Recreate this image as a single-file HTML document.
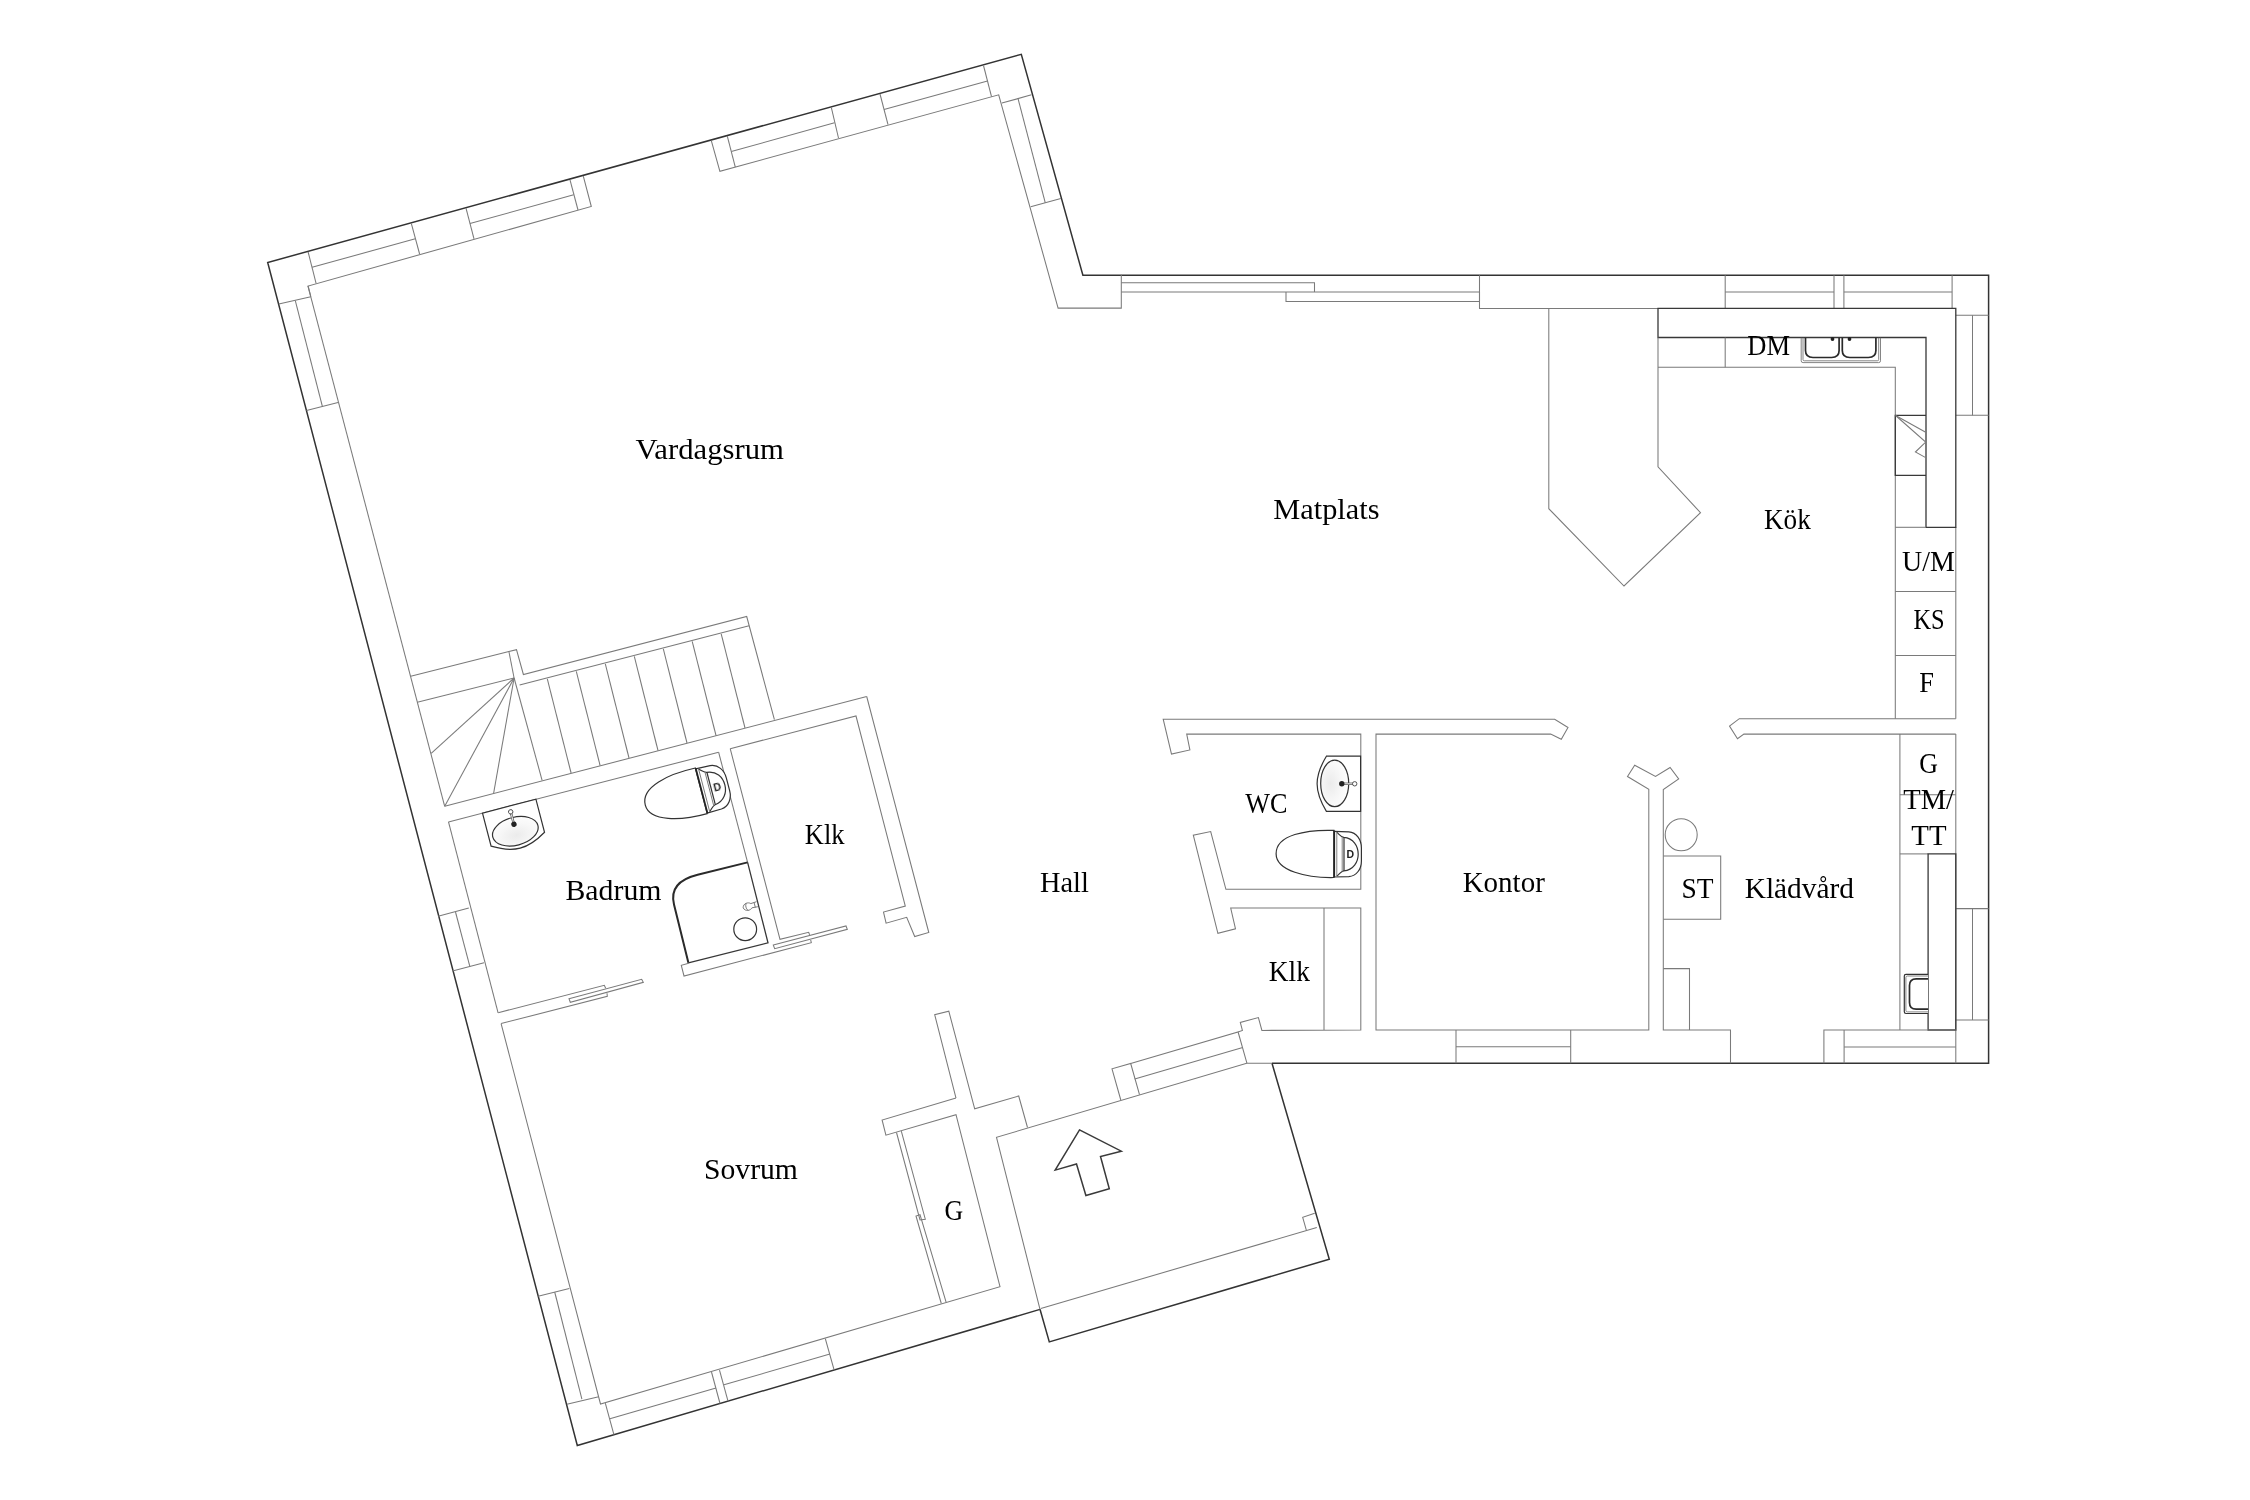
<!DOCTYPE html>
<html lang="sv"><head><meta charset="utf-8"><title>Planritning</title>
<style>
html,body{margin:0;padding:0;background:#fff}
body{width:2250px;height:1500px;overflow:hidden}
svg{display:block}
.l{fill:none;stroke:#7a7a7a;stroke-width:1.05}
.d{fill:none;stroke:#333;stroke-width:1.5;stroke-linejoin:miter}
.f{fill:#fff;stroke:#333;stroke-width:1.2}
.fn{fill:none;stroke:#333;stroke-width:1.2}
.fk{fill:none;stroke:#222;stroke-width:1.8}
.fl{fill:none;stroke:#777;stroke-width:0.9}
.tb{font-family:"Liberation Sans",sans-serif;font-size:10.5px;font-weight:bold;fill:#222}
.c{fill:none;stroke:#383838;stroke-width:1.3}
.a{fill:none;stroke:#3a3a3a;stroke-width:1.5;stroke-linejoin:miter}
.s{fill:none;stroke:#2a2a2a;stroke-width:2;stroke-linejoin:round}
text{font-family:"Liberation Serif","DejaVu Serif",serif;font-size:29.5px;fill:#000}
</style></head><body>
<svg width="2250" height="1500" viewBox="0 0 2250 1500">
<rect width="2250" height="1500" fill="#fff"/>
<polyline class="d" points="1040.0,1309.4 577.3,1445.5 267.7,262.5 1021.3,54.3 1082.9,275.3 1988.6,275.3 1988.6,1063.2 1272.0,1063.2"/>
<polyline class="d" points="1040.0,1309.3 1049.3,1341.9 1329.3,1259.2 1272.0,1063.2"/>
<polyline class="l" points="310.8,296.7 308.1,286.0 591.3,206.5 583.3,176.1"/>
<polyline class="l" points="308.1,251.9 316.1,283.3"/>
<polyline class="l" points="411.3,223.3 419.6,254.0"/>
<polyline class="l" points="466.0,208.1 474.0,238.8"/>
<polyline class="l" points="570.0,179.9 578.0,210.0"/>
<polyline class="l" points="312.1,267.3 415.3,238.8"/>
<polyline class="l" points="470.0,223.6 573.7,194.8"/>
<polyline class="l" points="727.3,136.1 735.3,167.1"/>
<polyline class="l" points="731.3,151.6 834.5,122.8"/>
<polyline class="l" points="831.3,107.3 838.5,138.0"/>
<polyline class="l" points="278.8,304.1 310.8,296.7"/>
<polyline class="l" points="295.3,300.7 322.5,406.8"/>
<polyline class="l" points="306.5,410.5 338.0,402.5"/>
<polyline class="l" points="711.3,140.7 719.9,171.3 998.7,94.8 1058.1,308.1 1121.3,308.1 1121.3,274.8"/>
<polyline class="l" points="880.0,94.0 888.0,124.7"/>
<polyline class="l" points="983.5,65.5 991.5,96.7"/>
<polyline class="l" points="884.0,109.5 987.5,80.9"/>
<polyline class="l" points="1001.9,103.1 1031.5,94.8"/>
<polyline class="l" points="1030.7,206.8 1060.8,198.5"/>
<polyline class="l" points="1018.1,98.8 1045.3,202.8"/>
<polyline class="l" points="1121.3,282.7 1314.5,282.7 1314.5,291.9"/>
<polyline class="l" points="1121.3,291.9 1479.5,291.9"/>
<polyline class="l" points="1479.5,291.9 1479.5,301.5 1286.0,301.5 1286.0,291.9"/>
<polyline class="l" points="1479.5,275.3 1479.5,308.4 1952.1,308.4"/>
<polyline class="l" points="307.9,285.9 444.7,806.3"/>
<polyline class="l" points="444.7,806.3 866.7,696.5"/>
<polyline class="l" points="410.7,676.3 508.9,651.5 516.5,649.7 523.4,674.5 746.7,616.5 774.4,719.6"/>
<polyline class="l" points="508.9,651.5 514.1,678.0"/>
<polyline class="l" points="417.3,702.3 514.1,678.0"/>
<polyline class="l" points="519.6,684.9 749.1,625.7"/>
<polyline class="l" points="514.1,678.0 431.2,753.4"/>
<polyline class="l" points="514.1,678.0 444.7,806.3"/>
<polyline class="l" points="514.1,678.0 493.6,793.3"/>
<polyline class="l" points="514.1,678.0 542.1,780.3"/>
<polyline class="l" points="547.3,678.9 571.1,773.0"/>
<polyline class="l" points="576.3,671.4 600.1,765.5"/>
<polyline class="l" points="605.3,663.9 629.0,758.0"/>
<polyline class="l" points="634.3,656.4 658.0,750.5"/>
<polyline class="l" points="663.3,648.8 687.0,743.0"/>
<polyline class="l" points="692.2,641.3 716.0,735.5"/>
<polyline class="l" points="721.2,633.8 745.0,728.0"/>
<polyline class="l" points="448.5,821.9 718.6,752.2"/>
<polyline class="l" points="448.5,821.9 498.1,1012.8"/>
<polyline class="l" points="718.6,752.2 747.6,862.4"/>
<polyline class="l" points="730.2,748.7 780.0,939.3 808.7,932.3 809.6,934.9"/>
<polyline class="l" points="730.2,748.7 856.0,716.0 905.3,906.1 883.5,912.0 886.1,923.2 906.7,917.3 914.7,936.5 928.8,932.5 866.7,696.5"/>
<polygon class="l" points="773.3,945.1 846.0,926.0 847.3,929.3 774.7,948.7"/>
<polyline class="l" points="688.7,963.3 681.3,965.3 684.0,976.0 811.3,942.7 810.7,940.0"/>
<polyline class="c" points="747.6,862.4 768.0,942.8 688.4,962.8"/>
<polyline class="l" points="438.1,916.3 468.8,908.0"/>
<polyline class="l" points="452.5,970.9 484.0,962.7"/>
<polyline class="l" points="455.5,912.0 469.9,966.7"/>
<polyline class="l" points="498.2,1012.7 604.3,985.3 605.7,988.3"/>
<polygon class="l" points="569.0,998.7 641.7,979.3 643.3,982.3 570.3,1002.3"/>
<polyline class="l" points="607.0,993.3 607.3,996.3 501.1,1023.6"/>
<polyline class="l" points="501.1,1023.6 600.5,1404.0 1000.0,1286.7 956.0,1114.7 885.9,1135.2 882.1,1120.0 956.0,1098.1"/>
<polyline class="l" points="538.1,1296.3 569.3,1288.5"/>
<polyline class="l" points="554.7,1292.0 581.9,1399.2"/>
<polyline class="l" points="566.9,1404.3 598.7,1396.8"/>
<polyline class="l" points="605.3,1403.2 613.9,1434.7"/>
<polyline class="l" points="711.5,1372.0 720.0,1403.5"/>
<polyline class="l" points="609.9,1418.7 716.0,1388.0"/>
<polyline class="l" points="719.5,1370.1 728.0,1401.1"/>
<polyline class="l" points="825.3,1338.7 834.1,1369.9"/>
<polyline class="l" points="724.0,1384.8 829.9,1354.1"/>
<polyline class="l" points="896.5,1132.5 920.0,1220.0 925.3,1219.2 901.3,1131.2"/>
<polyline class="l" points="941.3,1303.5 916.0,1216.0 920.0,1214.7 946.1,1302.1"/>
<polyline class="l" points="956.0,1098.1 934.7,1014.7 948.8,1011.2 974.7,1108.8 1018.7,1096.0 1027.5,1127.5"/>
<polyline class="l" points="1040.0,1309.3 996.5,1137.3 1246.7,1063.2 1272.0,1063.2"/>
<polyline class="l" points="1040.8,1308.5 1316.8,1227.5"/>
<polyline class="l" points="1314.7,1213.3 1302.7,1217.3 1306.4,1230.4"/>
<polyline class="l" points="1120.8,1100.0 1112.0,1068.8 1130.7,1063.5 1139.5,1094.7"/>
<polyline class="l" points="1130.7,1063.5 1238.1,1032.0 1246.9,1063.2"/>
<polyline class="l" points="1134.7,1078.9 1242.7,1047.5"/>
<polyline class="l" points="1725.2,275.3 1725.2,308.4"/>
<polyline class="l" points="1834.0,275.3 1834.0,308.4"/>
<polyline class="l" points="1843.9,275.3 1843.9,308.4"/>
<polyline class="l" points="1952.1,275.3 1952.1,308.4"/>
<polyline class="l" points="1725.2,291.9 1834.0,291.9"/>
<polyline class="l" points="1843.9,291.9 1952.1,291.9"/>
<polyline class="l" points="1955.8,527.3 1955.8,718.7"/>
<polyline class="l" points="1955.8,734.1 1955.8,1063.2"/>
<polyline class="l" points="1955.8,315.3 1988.6,315.3"/>
<polyline class="l" points="1955.8,415.3 1988.6,415.3"/>
<polyline class="l" points="1972.5,315.3 1972.5,415.3"/>
<polyline class="l" points="1955.8,908.6 1988.6,908.6"/>
<polyline class="l" points="1955.8,1020.0 1988.6,1020.0"/>
<polyline class="l" points="1972.5,908.6 1972.5,1020.0"/>
<polygon class="c" points="1658.0,308.4 1955.8,308.4 1955.8,527.3 1926.0,527.3 1926.0,337.5 1658.0,337.5"/>
<polyline class="l" points="1658.0,367.3 1895.3,367.3 1895.3,718.7"/>
<polyline class="l" points="1725.2,337.5 1725.2,367.3"/>
<polyline class="l" points="1658.0,337.5 1658.0,466.8 1700.5,512.7 1624.0,586.0 1548.8,508.7 1548.8,308.4"/>
<polyline class="c" points="1926.0,415.3 1895.3,415.3 1895.3,475.3 1926.0,475.3"/>
<polyline class="l" points="1895.6,415.5 1925.7,432.2"/>
<polyline class="l" points="1895.6,415.5 1925.7,442.1 1915.4,452.0 1925.7,457.6"/>
<polyline class="l" points="1895.3,527.3 1926.0,527.3"/>
<polyline class="l" points="1895.3,591.4 1955.8,591.4"/>
<polyline class="l" points="1895.3,655.5 1955.8,655.5"/>
<polyline class="l" points="1955.8,718.7 1739.3,718.7 1729.5,726.1 1737.5,738.7 1743.9,734.1 1955.8,734.1"/>
<polyline class="l" points="1899.9,734.1 1899.9,1030.0"/>
<polyline class="l" points="1899.9,794.7 1955.8,794.7"/>
<polyline class="l" points="1899.9,853.9 1928.1,853.9"/>
<polygon class="c" points="1928.1,853.9 1955.8,853.9 1955.8,1030.0 1928.1,1030.0"/>
<polyline class="l" points="1823.9,1063.2 1823.9,1030.0 1955.8,1030.0"/>
<polyline class="l" points="1844.1,1030.0 1844.1,1063.2"/>
<polyline class="l" points="1844.1,1046.9 1955.8,1046.9"/>
<polyline class="l" points="1730.5,1063.2 1730.5,1030.0 1663.3,1030.0 1663.3,789.5 1678.7,779.0 1670.1,767.5 1655.5,776.5 1634.7,765.3 1627.5,776.5 1648.8,789.3 1648.8,1030.0 1376.0,1030.0 1376.0,734.1 1550.7,734.1 1561.3,739.2 1568.0,727.5 1554.7,719.2 1163.2,719.2 1171.5,754.1 1189.9,749.9 1186.7,734.1 1360.8,734.1 1360.8,889.3 1225.9,889.3 1210.7,831.5 1193.3,835.2 1217.9,933.3 1235.5,928.8 1230.7,908.0 1360.8,908.0 1360.8,1030.0 1261.9,1030.4 1258.4,1017.6 1240.3,1022.4 1242.4,1030.4 1238.1,1032.0"/>
<polyline class="l" points="1324.0,908.0 1324.0,1030.0"/>
<polyline class="l" points="1456.0,1030.0 1456.0,1063.2"/>
<polyline class="l" points="1570.7,1030.0 1570.7,1063.2"/>
<polyline class="l" points="1456.0,1046.7 1570.7,1046.7"/>
<circle class="l" cx="1681.2" cy="834.7" r="16.0"/>
<polyline class="l" points="1663.3,856.0 1720.7,856.0 1720.7,919.2 1663.3,919.2"/>
<polyline class="l" points="1663.3,968.6 1689.5,968.6 1689.5,1030.0"/>
<polygon class="a" points="1079.5,1129.9 1121.3,1151.2 1100.5,1156.5 1109.3,1188.8 1085.9,1195.5 1076.5,1164.0 1055.2,1170.1"/>
<defs><radialGradient id="bg" cx="0.35" cy="0.5" r="0.75"><stop offset="0" stop-color="#ebebeb"/><stop offset="0.55" stop-color="#f8f8f8"/><stop offset="1" stop-color="#ffffff"/></radialGradient></defs>
<g transform="translate(1360.8,853.9)"><path class="f" d="M-26.9,-23.5 C-53.9,-24.4 -84.7,-19.3 -84.7,-0.2 C-84.7,17.1 -53.9,24.1 -26.9,23.6 Z"/><path class="f" d="M-26.9,-22.6 L-12,-22.1 C-4,-21.5 0.6,-14 0.6,-6 L0.6,7 C0.6,15 -4,22 -12,22.7 L-26.9,23.1"/><path class="fk" d="M-26.6,-23.3 L-26.6,23.4"/><path class="fn" d="M-24,-21.6 C-21,-19 -20,-17 -17,-16.5 C-7.3,-15.6 -2.6,-8 -2.6,0.3 C-2.6,8 -7.3,16 -17,17 C-20,17.5 -21,20 -24,22.2"/><path class="fl" d="M-24,-22 L-24,22.5 M-18.6,-17.2 L-18.6,17.8"/><path class="fn" d="M-16.8,-16.5 L-16.8,17"/></g>
<g transform="translate(727.3,784.0) rotate(-14.6)"><path class="f" d="M-26.9,-23.5 C-53.9,-24.4 -84.7,-19.3 -84.7,-0.2 C-84.7,17.1 -53.9,24.1 -26.9,23.6 Z"/><path class="f" d="M-26.9,-22.6 L-12,-22.1 C-4,-21.5 0.6,-14 0.6,-6 L0.6,7 C0.6,15 -4,22 -12,22.7 L-26.9,23.1"/><path class="fk" d="M-26.6,-23.3 L-26.6,23.4"/><path class="fn" d="M-24,-21.6 C-21,-19 -20,-17 -17,-16.5 C-7.3,-15.6 -2.6,-8 -2.6,0.3 C-2.6,8 -7.3,16 -17,17 C-20,17.5 -21,20 -24,22.2"/><path class="fl" d="M-24,-22 L-24,22.5 M-18.6,-17.2 L-18.6,17.8"/><path class="fn" d="M-16.8,-16.5 L-16.8,17"/></g>
<g transform="translate(1360.6,783.8)"><path class="f" d="M0,-27.6 L-34.2,-27.6 C-40,-18 -43.5,-9 -43.5,0 C-43.5,9 -40,18 -34.2,27.6 L0,27.6 Z"/><ellipse class="f" style="fill:url(#bg)" cx="-25.9" cy="-0.4" rx="14" ry="23.3"/><path d="M-18.8,0 L-6,0" style="fill:none;stroke:#555;stroke-width:2.4"/><path d="M-18.8,0 L-6,0" style="fill:none;stroke:#eee;stroke-width:1"/><circle cx="-18.8" cy="0" r="2.7" fill="#222"/><circle cx="-5.9" cy="0" r="2.2" fill="#fff" stroke="#444" stroke-width="0.9"/></g>
<g transform="translate(509.2,806.1) rotate(-104.6)"><path class="f" d="M0,-27.6 L-34.2,-27.6 C-40,-18 -43.5,-9 -43.5,0 C-43.5,9 -40,18 -34.2,27.6 L0,27.6 Z"/><ellipse class="f" style="fill:url(#bg)" cx="-25.9" cy="-0.4" rx="14" ry="23.3"/><path d="M-18.8,0 L-6,0" style="fill:none;stroke:#555;stroke-width:2.4"/><path d="M-18.8,0 L-6,0" style="fill:none;stroke:#eee;stroke-width:1"/><circle cx="-18.8" cy="0" r="2.7" fill="#222"/><circle cx="-5.9" cy="0" r="2.2" fill="#fff" stroke="#444" stroke-width="0.9"/></g>
<g filter="url(#gaa)"><text class="tb" x="1346.6" y="858.2">D</text>
<text class="tb" transform="translate(714.6,791.7) rotate(-14.6)">D</text></g>
<path class="s" d="M747.6,862.4 L697.6,874.8 Q668.5,882 674,904.4 L688.4,962.8"/>
<circle class="f" cx="745.2" cy="929.2" r="11.4"/>
<g transform="translate(757.2,904.2) rotate(-14.6)"><path class="fl" d="M0,-2.6 L-6,-2.2 C-8,-4.5 -13.5,-4.5 -14.5,0 C-13.5,4.5 -8,4.5 -6,2.2 L0,2.6 M-2.6,-2.6 L-2.6,2.6 M-10.5,-3.6 C-12,-1.5 -12,1.5 -10.5,3.6"/></g>
<path class="fl" d="M1801.2,337.8 L1801.2,360.8 Q1801.2,362.6 1803,362.6 L1878.7,362.6 Q1880.5,362.6 1880.5,360.8 L1880.5,337.8"/>
<path class="fl" d="M1803.0,337.8 L1803.0,359.6 Q1803,360.8 1804.4,360.8 L1877.3,360.8 Q1878.7,360.8 1878.7,359.6 L1878.7,337.8"/>
<path class="s" style="stroke-width:1.7" d="M1805.5,337.8 L1805.5,350.5 Q1805.5,357.5 1813,357.5 L1831.6,357.5 Q1839.1,357.5 1839.1,350.5 L1839.1,337.8 M1842.3,337.8 L1842.3,350.5 Q1842.3,357.5 1849.8,357.5 L1868.4,357.5 Q1875.9,357.5 1875.9,350.5 L1875.9,337.8"/>
<circle cx="1832.5" cy="339.0" r="1.9" fill="#222"/><circle cx="1849.5" cy="339.0" r="1.9" fill="#222"/>
<path class="f" d="M1928.1,974.4 L1906,974.4 Q1904.3,974.4 1904.3,976.1 L1904.3,1011.8 Q1904.3,1013.5 1906,1013.5 L1928.1,1013.5"/>
<path class="fl" d="M1928.1,976.0 L1907.4,976.0 Q1905.9,976.0 1905.9,977.5 L1905.9,1010.4 Q1905.9,1011.9 1907.4,1011.9 L1928.1,1011.9"/>
<path class="s" style="stroke-width:1.7" d="M1928.1,978.9 L1916.2,978.9 Q1909.5,978.9 1909.5,985.6 L1909.5,1002.4 Q1909.5,1009.1 1916.2,1009.1 L1928.1,1009.1"/>
<defs><filter id="gaa" x="0" y="0" width="2250" height="1500" filterUnits="userSpaceOnUse"><feOffset dx="0" dy="0"/></filter></defs>
<g filter="url(#gaa)">
<text x="635.6" y="458.8" textLength="148.4" lengthAdjust="spacingAndGlyphs">Vardagsrum</text>
<text x="1273.3" y="518.5" textLength="106.2" lengthAdjust="spacingAndGlyphs">Matplats</text>
<text x="1764.0" y="528.7" textLength="46.8" lengthAdjust="spacingAndGlyphs">Kök</text>
<text x="1747.3" y="355.3" textLength="42.7" lengthAdjust="spacingAndGlyphs">DM</text>
<text x="1902.0" y="570.8" textLength="52.8" lengthAdjust="spacingAndGlyphs">U/M</text>
<text x="1913.5" y="628.8" textLength="31.2" lengthAdjust="spacingAndGlyphs">KS</text>
<text x="1919.3" y="692.0" textLength="14.7" lengthAdjust="spacingAndGlyphs">F</text>
<text x="1919.3" y="772.5" textLength="18.7" lengthAdjust="spacingAndGlyphs">G</text>
<text x="1903.3" y="809.3" textLength="50.7" lengthAdjust="spacingAndGlyphs">TM/</text>
<text x="1911.3" y="844.8" textLength="35.2" lengthAdjust="spacingAndGlyphs">TT</text>
<text x="1681.5" y="897.9" textLength="32.0" lengthAdjust="spacingAndGlyphs">ST</text>
<text x="1744.7" y="897.9" textLength="109.3" lengthAdjust="spacingAndGlyphs">Klädvård</text>
<text x="1462.7" y="892.0" textLength="82.1" lengthAdjust="spacingAndGlyphs">Kontor</text>
<text x="1245.3" y="812.5" textLength="42.2" lengthAdjust="spacingAndGlyphs">WC</text>
<text x="1268.8" y="980.8" textLength="41.1" lengthAdjust="spacingAndGlyphs">Klk</text>
<text x="1040.0" y="892.0" textLength="48.8" lengthAdjust="spacingAndGlyphs">Hall</text>
<text x="804.8" y="844.0" textLength="39.7" lengthAdjust="spacingAndGlyphs">Klk</text>
<text x="565.5" y="900.0" textLength="96.0" lengthAdjust="spacingAndGlyphs">Badrum</text>
<text x="704.0" y="1178.7" textLength="93.9" lengthAdjust="spacingAndGlyphs">Sovrum</text>
<text x="944.5" y="1220.0" textLength="18.7" lengthAdjust="spacingAndGlyphs">G</text>
</g>
</svg>
</body></html>
